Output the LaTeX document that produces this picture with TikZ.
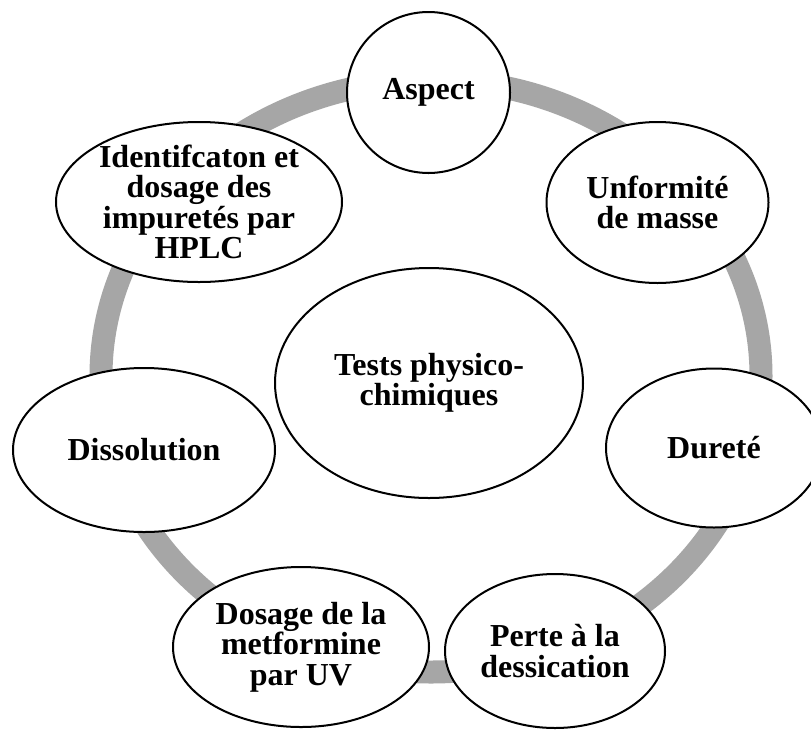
\documentclass[tikz,border=0pt]{standalone}
\usepackage{fontspec}
\setmainfont{Liberation Serif}
\usetikzlibrary{shapes.geometric}
\definecolor{ringgray}{RGB}{166,166,166}
\tikzset{
  bub/.style={ellipse, draw=black, line width=2pt, fill=white, inner sep=0pt, outer sep=0pt},
  txt/.style={align=center, inner sep=0pt, font=\fontsize{32}{30.5}\selectfont\bfseries},
  ring/.style={draw=ringgray, line width=23pt}
}
\begin{document}
\begin{tikzpicture}[x=1pt,y=-1pt]
\useasboundingbox (0,0) rectangle (811,729);
\fill[white] (0,0) rectangle (811,729);
\begin{scope}
\clip (0,0) rectangle (811,729);
\draw[ring] (431,376) ellipse [x radius=330pt, y radius=296pt];
\node[bub, minimum width=163pt, minimum height=161pt] (aspect) at (428.5,92.5) {};
\node[txt] (aspectt) at (aspect.center) {Aspect};
\node[bub, minimum width=222pt, minimum height=161pt] (unif) at (657.5,202.5) {};
\node[txt] (unift) at (unif.center) {Unformité\\de masse};
\node[bub, minimum width=216pt, minimum height=159pt] (durete) at (714,448) {};
\node[txt] (duretet) at (durete.center) {Dureté};
\node[bub, minimum width=220pt, minimum height=154pt] (perte) at (555,651) {};
\node[txt] (pertet) at (perte.center) {Perte à la\\dessication};
\node[bub, minimum width=256pt, minimum height=160pt] (dosage) at (301,647) {};
\node[txt] (dosaget) at (dosage.center) {Dosage de la\\metformine\\par UV};
\node[bub, minimum width=262pt, minimum height=164pt] (dissol) at (144,450) {};
\node[txt] (dissolt) at (dissol.center) {Dissolution};
\node[bub, minimum width=286pt, minimum height=160pt] (ident) at (199,202) {};
\node[txt] (identt) at (ident.center) {Identifcaton et\\dosage des\\impuretés par\\HPLC};
\node[bub, minimum width=308pt, minimum height=230pt] (tests) at (429,383) {};
\node[txt] (testst) at (tests.center) {Tests physico-\\chimiques};
\end{scope}
\end{tikzpicture}
\end{document}
